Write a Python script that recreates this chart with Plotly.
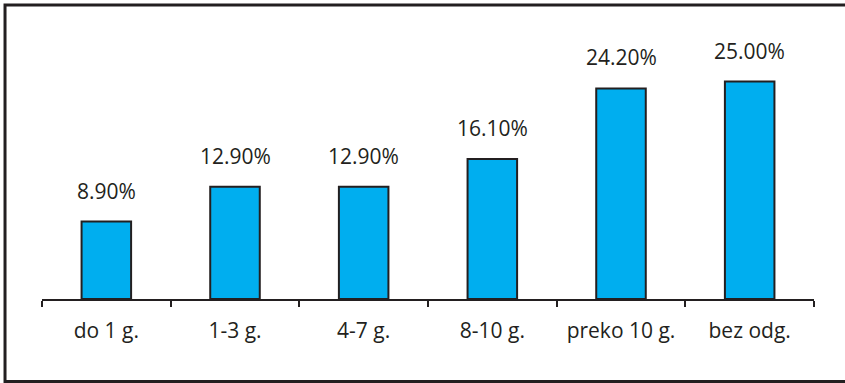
import plotly.graph_objects as go

# Share of respondents by length of service
categories = ["do 1 g.", "1-3 g.", "4-7 g.", "8-10 g.", "preko 10 g.", "bez odg."]
values = [8.9, 12.9, 12.9, 16.1, 24.2, 25.0]
labels = ["8.90%", "12.90%", "12.90%", "16.10%", "24.20%", "25.00%"]

INK = "#231F20"
CYAN = "#00AEEF"
FONT = "Open Sans"

fig = go.Figure(
    go.Bar(
        x=categories,
        y=values,
        marker=dict(color=CYAN, line=dict(color=INK, width=2)),
        hoverinfo="skip",
    )
)

for cat, val, lab in zip(categories, values, labels):
    fig.add_annotation(
        x=cat, y=val, text=lab, showarrow=False,
        yanchor="middle", yshift=31,
        font=dict(family=FONT, size=21, color=INK),
    )

# outer frame (right edge runs off the canvas)
fig.add_shape(
    type="rect", xref="paper", yref="paper",
    x0=-0.0479, x1=1.06, y0=-0.316, y1=1.1264,
    line=dict(color=INK, width=3), fillcolor="rgba(0,0,0,0)",
)

fig.update_layout(
    width=845, height=383,
    margin=dict(l=42, r=31, t=38, b=84),
    paper_bgcolor="white", plot_bgcolor="white",
    bargap=0.615,
    showlegend=False,
    font=dict(family=FONT, size=21, color=INK),
)
fig.update_xaxes(
    showline=True, linecolor=INK, linewidth=2,
    ticks="outside", tickson="boundaries", ticklen=6, tickwidth=2, tickcolor=INK,
    ticklabelstandoff=12,
    showgrid=False, zeroline=False,
    tickfont=dict(family=FONT, size=21, color=INK),
)
fig.update_yaxes(range=[0, 30], visible=False, showgrid=False, zeroline=False)

fig.write_html("out.html")
